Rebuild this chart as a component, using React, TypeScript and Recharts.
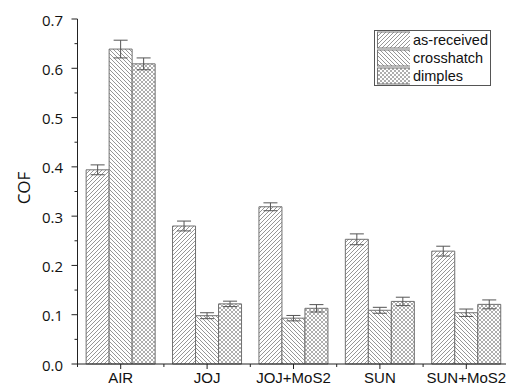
import React from 'react';
import { BarChart, Bar, XAxis, YAxis, ErrorBar, Legend, Label } from 'recharts';

const categories = ['AIR', 'JOJ', 'JOJ+MoS2', 'SUN', 'SUN+MoS2'];
const asReceived = [0.394, 0.28, 0.319, 0.253, 0.229];
const asReceivedErr = [0.01, 0.01, 0.008, 0.011, 0.01];
const crosshatch = [0.639, 0.098, 0.093, 0.109, 0.104];
const crosshatchErr = [0.018, 0.006, 0.0055, 0.006, 0.0075];
const dimples = [0.609, 0.122, 0.113, 0.127, 0.121];
const dimplesErr = [0.012, 0.0055, 0.0075, 0.0085, 0.009];
const yTicks = [0, 0.05, 0.1, 0.15, 0.2, 0.25, 0.3, 0.35, 0.4, 0.45, 0.5, 0.55, 0.6, 0.65, 0.7];

const data = categories.map((name, i) => ({
  name,
  ar: asReceived[i],
  arErr: asReceivedErr[i],
  ch: crosshatch[i],
  chErr: crosshatchErr[i],
  dm: dimples[i],
  dmErr: dimplesErr[i],
}));

const AX = '#222';
const isMajor = (v: number) => Math.round(v * 100) % 10 === 0;

const LeftTick = (props: any) => {
  const { x, y, payload } = props;
  const v = payload.value as number;
  const major = isMajor(v);
  return (
    <g>
      <line x1={x} x2={x - (major ? 6 : 3)} y1={y} y2={y} stroke={AX} />
      {major && (
        <text x={x - 14.5} y={y + 6.5} textAnchor="end" fontSize={15} fontFamily="Open Sans" fill="#111">
          {v.toFixed(1)}
        </text>
      )}
    </g>
  );
};

const RightTick = (props: any) => {
  const { x, y, payload } = props;
  const major = isMajor(payload.value as number);
  return <line x1={x} x2={x - (major ? 6 : 3)} y1={y} y2={y} stroke={AX} />;
};

const BottomTick = (props: any) => {
  const { x, y, payload } = props;
  const half = payload.offset || 43.2;
  return (
    <g>
      <line x1={x} x2={x} y1={y} y2={y + 5} stroke={AX} />
      <line x1={x - half} x2={x - half} y1={y} y2={y + 3} stroke={AX} />
      <text x={x} y={y + 19} textAnchor="middle" fontSize={15} fontFamily="Liberation Sans" fill="#111">
        {payload.value}
      </text>
    </g>
  );
};

const TopTick = (props: any) => {
  const { x, y, payload } = props;
  const half = payload.offset || 43.2;
  return (
    <g>
      <line x1={x} x2={x} y1={y} y2={y + 5} stroke={AX} />
      <line x1={x - half} x2={x - half} y1={y} y2={y + 3} stroke={AX} />
    </g>
  );
};

const renderCof = (props: any) => {
  const vb = props.viewBox || { x: 0, y: 19, width: 77.5, height: 345 };
  const cx = vb.x + 23;
  const cy = vb.y + vb.height / 2 - 3.5;
  return (
    <text x={cx} y={cy} transform={`rotate(-90 ${cx} ${cy})`} textAnchor="middle" dominantBaseline="central" fontSize={17} fontFamily="Open Sans" fill="#111">
      COF
    </text>
  );
};

const renderLegend = (props: any) => {
  const payload = props.payload || [];
  return (
    <div style={{ border: '1px solid #555', background: '#fff', width: 115 }}>
      {payload.map((e: any) => (
        <div key={e.value} style={{ display: 'flex', alignItems: 'center', height: 18 }}>
          <svg width={35} height={18} style={{ display: 'block' }}>
            <rect x={2.5} y={1} width={33} height={16} fill={e.color} stroke="#777" />
          </svg>
          <span style={{ marginLeft: 3, fontFamily: 'Liberation Sans', fontSize: 14.5, lineHeight: '18px', color: '#111' }}>
            {e.value}
          </span>
        </div>
      ))}
    </div>
  );
};

const PatternDefs = () => (
  <svg width={0} height={0} style={{ position: 'absolute' }}>
    <defs>
      <pattern id="pAR" patternUnits="userSpaceOnUse" width={4} height={4}>
        <rect width={4} height={4} fill="#fff" />
        <path d="M-1,1 l2,-2 M0,4 l4,-4 M3,5 l2,-2" stroke="#8a8a8a" strokeWidth={0.9} />
      </pattern>
      <pattern id="pCH" patternUnits="userSpaceOnUse" width={4} height={4}>
        <rect width={4} height={4} fill="#fff" />
        <path d="M-1,3 l2,2 M0,0 l4,4 M3,-1 l2,2" stroke="#8a8a8a" strokeWidth={0.9} />
      </pattern>
      <pattern id="pDM" patternUnits="userSpaceOnUse" width={4} height={4}>
        <rect width={4} height={4} fill="#fff" />
        <path d="M-1,1 l2,-2 M0,4 l4,-4 M3,5 l2,-2 M-1,3 l2,2 M0,0 l4,4 M3,-1 l2,2" stroke="#999" strokeWidth={0.8} />
      </pattern>
    </defs>
  </svg>
);

export default function App() {
  return (
    <div style={{ position: 'absolute', left: 0, top: 0, width: 506, height: 387, overflow: 'hidden', background: '#fff' }}>
      <PatternDefs />
      <BarChart
        width={512}
        height={387}
        data={data}
        margin={{ top: 19, right: 2.5, left: 0, bottom: 0 }}
        barCategoryGap="10%"
        barGap={0}
      >
        <XAxis dataKey="name" interval={0} height={23} tickSize={0} tickMargin={0} tickLine={false} axisLine={{ stroke: AX }} tick={<BottomTick />} />
        <XAxis xAxisId="top" orientation="top" dataKey="name" interval={0} height={0} tickSize={0} tickMargin={0} tickLine={false} axisLine={{ stroke: AX }} tick={<TopTick />} />
        <YAxis type="number" domain={[0, 0.7]} ticks={yTicks} interval={0} width={77.5} tickSize={0} tickMargin={0} tickLine={false} axisLine={{ stroke: AX }} tick={<LeftTick />}>
          <Label content={renderCof} />
        </YAxis>
        <YAxis yAxisId="right" orientation="right" type="number" domain={[0, 0.7]} ticks={yTicks} interval={0} width={0} tickSize={0} tickMargin={0} tickLine={false} axisLine={{ stroke: AX }} tick={<RightTick />} />
        <Legend
          content={renderLegend}
          layout="horizontal"
          verticalAlign="middle"
          align="center"
          width={117}
          wrapperStyle={{ left: 374, top: 30, width: 117 }}
        />
        <Bar dataKey="ar" name="as-received" fill="url(#pAR)" stroke="#707070" strokeWidth={1} isAnimationActive={false}>
          <ErrorBar dataKey="arErr" width={7} stroke="#555" strokeWidth={1} />
        </Bar>
        <Bar dataKey="ch" name="crosshatch" fill="url(#pCH)" stroke="#707070" strokeWidth={1} isAnimationActive={false}>
          <ErrorBar dataKey="chErr" width={7} stroke="#555" strokeWidth={1} />
        </Bar>
        <Bar dataKey="dm" name="dimples" fill="url(#pDM)" stroke="#707070" strokeWidth={1} isAnimationActive={false}>
          <ErrorBar dataKey="dmErr" width={7} stroke="#555" strokeWidth={1} />
        </Bar>
      </BarChart>
    </div>
  );
}
